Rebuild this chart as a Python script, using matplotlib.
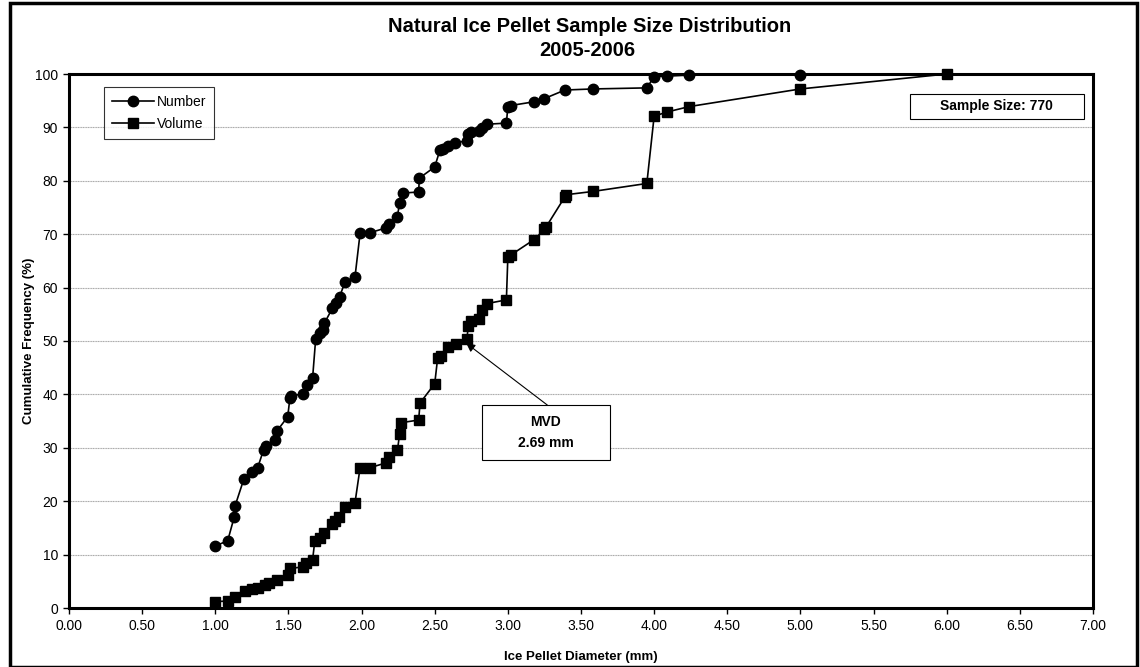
import numpy as np
import matplotlib.pyplot as plt
from matplotlib.patches import Rectangle

plt.rcParams['font.family'] = ['Liberation Sans', 'DejaVu Sans']

# Diámetro (mm) y frecuencia acumulada (%) - serie por número
num_d = [1.00, 1.085, 1.13, 1.135, 1.196, 1.25, 1.29, 1.33, 1.35, 1.41, 1.42,
         1.495, 1.51, 1.515, 1.60, 1.625, 1.665, 1.686, 1.715, 1.735, 1.745,
         1.80, 1.825, 1.85, 1.886, 1.955, 1.99, 2.06, 2.17, 2.19, 2.245,
         2.26, 2.28, 2.39, 2.395, 2.50, 2.535, 2.56, 2.59, 2.64, 2.72, 2.73,
         2.75, 2.80, 2.82, 2.86, 2.99, 3.00, 3.02, 3.18, 3.25, 3.39, 3.58,
         3.95, 4.00, 4.09, 4.24, 5.00]
num_f = [11.6, 12.6, 17.1, 19.1, 24.2, 25.5, 26.3, 29.6, 30.4, 31.5, 33.1,
         35.8, 39.3, 39.7, 40.1, 41.8, 43.0, 50.3, 51.5, 52.0, 53.3,
         56.1, 57.2, 58.3, 61.0, 62.0, 70.2, 70.3, 71.2, 72.0, 73.3,
         75.9, 77.7, 77.9, 80.5, 82.6, 85.7, 86.0, 86.6, 87.1, 87.5, 88.8,
         89.2, 89.3, 89.9, 90.6, 90.8, 93.9, 94.1, 94.8, 95.4, 97.0, 97.2,
         97.4, 99.5, 99.6, 99.8, 99.9]

# Serie por volumen
vol_d = [1.00, 1.085, 1.135, 1.20, 1.25, 1.29, 1.34, 1.37, 1.42, 1.50, 1.51,
         1.60, 1.62, 1.665, 1.68, 1.715, 1.74, 1.80, 1.82, 1.845, 1.886,
         1.955, 1.99, 2.06, 2.17, 2.19, 2.245, 2.26, 2.27, 2.39, 2.40, 2.50,
         2.52, 2.54, 2.59, 2.645, 2.72, 2.73, 2.745, 2.80, 2.82, 2.855, 2.99,
         3.00, 3.02, 3.18, 3.25, 3.26, 3.39, 3.40, 3.58, 3.95, 4.00, 4.09,
         4.24, 5.00, 6.00]
vol_f = [1.2, 1.3, 2.1, 3.2, 3.5, 3.7, 4.3, 4.6, 5.2, 6.2, 7.4,
         7.7, 8.4, 9.0, 12.5, 13.2, 14.0, 15.7, 16.3, 17.0, 19.0,
         19.7, 26.3, 26.3, 27.2, 28.2, 29.5, 32.6, 34.7, 35.2, 38.4, 42.0,
         46.8, 47.2, 48.8, 49.4, 50.4, 52.9, 53.7, 54.2, 55.8, 57.0, 57.7,
         65.8, 66.1, 69.0, 70.9, 71.3, 77.0, 77.4, 78.0, 79.5, 92.1, 92.9,
         93.9, 97.2, 100.0]

mvd = 2.69
sample_size = 770

fig = plt.figure(figsize=(11.4, 6.67), dpi=100)
ax = fig.add_axes([69 / 1140, 1 - 608 / 667, (1093 - 69) / 1140, (608 - 74) / 667])

ax.plot(num_d, num_f, color='black', lw=1.2, marker='o', markersize=7.5,
        label='Number', zorder=3, clip_on=False)
ax.plot(vol_d, vol_f, color='black', lw=1.2, marker='s', markersize=7,
        label='Volume', zorder=3, clip_on=False)

ax.set_xlim(0, 7)
ax.set_ylim(0, 100)
ax.set_xticks(np.arange(0, 7.01, 0.5))
ax.set_xticklabels(['%.2f' % v for v in np.arange(0, 7.01, 0.5)])
ax.set_yticks(np.arange(0, 101, 10))
ax.tick_params(direction='out', length=4, width=1, labelsize=10, pad=4)
ax.grid(axis='y', color='#a8a8a8', lw=0.8, ls=(0, (1, 0.5)))
ax.set_axisbelow(True)
for s in ax.spines.values():
    s.set_linewidth(2.2)

ax.set_xlabel('Ice Pellet Diameter (mm)', fontsize=9.5, fontweight='bold', labelpad=13)
ax.set_ylabel('Cumulative Frequency (%)', fontsize=9.5, fontweight='bold', labelpad=0)
fig.text(590 / 1140, 1 - 26 / 667, 'Natural Ice Pellet Sample Size Distribution',
         ha='center', va='center', fontsize=14.5, fontweight='bold')
fig.text(587 / 1140, 1 - 51 / 667, '2005-2006',
         ha='center', va='center', fontsize=14.5, fontweight='bold')

leg = ax.legend(loc='upper left', bbox_to_anchor=(0.034, 0.976), fontsize=10,
                frameon=True, fancybox=False, edgecolor='black',
                borderaxespad=0, handlelength=3.0, borderpad=0.6,
                labelspacing=0.55, handletextpad=0.2)
leg.get_frame().set_linewidth(0.8)

# Cuadro del tamaño de muestra
ax.add_patch(Rectangle((5.748, 91.6), 1.19, 4.7, fc='white', ec='black',
                       lw=0.8, zorder=4))
ax.text(6.343, 93.95, 'Sample Size: %d' % sample_size, ha='center', va='center',
        fontsize=10, fontweight='bold', zorder=5)

# Cuadro MVD con flecha
ax.add_patch(Rectangle((2.823, 27.7), 0.875, 10.3, fc='white', ec='black',
                       lw=0.8, zorder=4))
ax.text(3.26, 32.85, 'MVD\n%.2f mm' % mvd, ha='center', va='center',
        fontsize=10, fontweight='bold', linespacing=1.6, zorder=5)
ax.annotate('', xy=(2.715, 49.6), xytext=(3.27, 38.0),
            arrowprops=dict(arrowstyle='-|>', color='black', lw=0.8,
                            mutation_scale=13, shrinkA=0, shrinkB=0),
            zorder=5)

fig.patches.append(Rectangle((10 / 1140, 0.0), 1127 / 1140, 1 - 3 / 667,
                             transform=fig.transFigure, fill=False,
                             ec='black', lw=2.5))

fig.savefig('out.png', dpi=100)
